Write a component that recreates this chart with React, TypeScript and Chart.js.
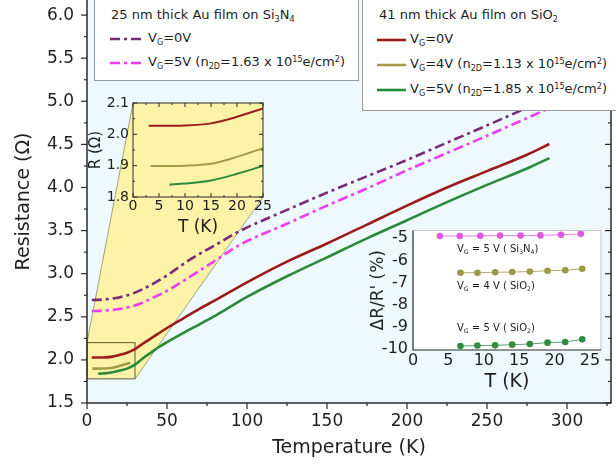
import React, { useEffect, useRef } from 'react';
import { Chart, registerables } from 'chart.js';

Chart.register(...registerables);

// ---------------- data ----------------
// 41 nm Au film on SiO2
const tempSiO2_0V = [3, 5, 10, 15, 20, 25, 30, 35, 40, 50, 60, 70, 80, 100, 125, 150, 175, 200, 225, 250, 275, 289];
const resSiO2_0V = [2.027, 2.027, 2.028, 2.035, 2.056, 2.083, 2.125, 2.19, 2.25, 2.37, 2.48, 2.59, 2.69, 2.9, 3.14, 3.35, 3.57, 3.79, 4.0, 4.19, 4.38, 4.505];
const tempSiO2_4V = [3.4, 5, 10, 15, 20, 25, 27];
const resSiO2_4V = [1.899, 1.899, 1.9, 1.906, 1.928, 1.956, 1.968];
const tempSiO2_5V = [7, 10, 15, 20, 25, 30, 35, 40, 45, 50, 60, 70, 80, 100, 125, 150, 175, 200, 225, 250, 275, 289];
const resSiO2_5V = [1.84, 1.843, 1.853, 1.874, 1.899, 1.945, 2.02, 2.085, 2.15, 2.205, 2.31, 2.41, 2.51, 2.73, 2.97, 3.19, 3.41, 3.62, 3.83, 4.03, 4.22, 4.34];
// 25 nm Au film on Si3N4
const tempSi3N4 = [3, 10, 20, 30, 40, 50, 64, 80, 95, 125, 150, 175, 200, 225, 250, 272, 290];
const resSi3N4_0V = [2.695, 2.7, 2.725, 2.78, 2.87, 2.98, 3.16, 3.33, 3.49, 3.74, 3.94, 4.13, 4.32, 4.52, 4.72, 4.9, 5.05];
const resSi3N4_5V = [2.567, 2.57, 2.59, 2.63, 2.71, 2.8, 2.96, 3.15, 3.33, 3.58, 3.79, 3.99, 4.2, 4.4, 4.6, 4.78, 4.93];
// Inset: relative change dR/R' (%)
const dTempSi3N4 = [3.8, 6.6, 9.5, 12.3, 15.2, 18.0, 20.9, 23.7];
const dResSi3N4_5V = [-4.9, -4.9, -4.89, -4.88, -4.88, -4.87, -4.84, -4.8];
const dTempSiO2 = [6.7, 9.1, 11.6, 14.0, 16.5, 19.0, 21.5, 23.9];
const dResSiO2_4V = [-6.55, -6.55, -6.53, -6.52, -6.5, -6.46, -6.44, -6.37];
const dResSiO2_5V = [-9.85, -9.83, -9.82, -9.79, -9.76, -9.7, -9.67, -9.55];

// tick labels
const mainXTicks = [0, 50, 100, 150, 200, 250, 300];
const mainYTicks = [1.5, 2.0, 2.5, 3.0, 3.5, 4.0, 4.5, 5.0, 5.5, 6.0];
const inset1XTicks = [0, 5, 10, 15, 20, 25];
const inset1YTicks = [1.8, 1.9, 2.0, 2.1];
const inset2XTicks = [0, 5, 10, 15, 20, 25];
const inset2YTicks = [-10, -9, -8, -7, -6, -5];
// zoomed region marked on the main plot (T range, R range)
const zoomBoxT = [0, 30];
const zoomBoxR = [1.78, 2.2];

// ---------------- styles ----------------
const FONT = "'DejaVu Sans', 'Liberation Sans', Arial, sans-serif";
const TEXT = '#1e1e1e';
const AXIS = '#2a2a2a';
const CYAN = '#edf9fc';
const YELLOW = '#fcf3a8';
const RED = '#9c1c1c';
const OLIVE = '#a39d48';
const GREEN = '#2b8a3a';
const PURPLE = '#7a2a76';
const MAGENTA = '#ef3cef';
const DASHDOT = [10, 4, 3, 4];

// layout of inset canvases (page px) and their plot areas (canvas px)
const IN1 = { left: 80, top: 90, width: 195, height: 150 };
const IN1_AREA = { left: 53, top: 13, right: 183, bottom: 107 };
const IN2 = { left: 355, top: 218, width: 255, height: 190 };
const IN2_AREA = { left: 58, top: 12.5, right: 246, bottom: 132 };

const pts = (xs: number[], ys: number[], maxX = Infinity) =>
  xs.map((x, i) => ({ x, y: ys[i] })).filter((p) => p.x <= maxX);

const pin = (size: number, horizontal: boolean) => (s: any) => {
  if (horizontal) s.height = size;
  else s.width = size;
  s.paddingLeft = 0;
  s.paddingRight = 0;
  s.paddingTop = 0;
  s.paddingBottom = 0;
};
const setTicks = (values: number[]) => (s: any) => {
  s.ticks = values.map((v) => ({ value: v }));
};

function axisCfg(o: any) {
  return {
    type: 'linear',
    min: o.min,
    max: o.max,
    afterBuildTicks: setTicks(o.ticks),
    afterFit: pin(o.size, o.horizontal),
    grid: { display: false, drawTicks: false },
    border: { display: false },
    ticks: {
      font: { family: FONT, size: o.tickSize },
      color: TEXT,
      padding: o.tickPad,
      maxRotation: 0,
      autoSkip: false,
      callback: o.fmt,
    },
    title: {
      display: true,
      text: o.title,
      color: TEXT,
      font: { family: FONT, size: o.titleSize },
      padding: o.titlePad,
    },
  };
}

function line(label: string, data: any[], color: string, width: number, dash: number[] = []) {
  return {
    label,
    data,
    borderColor: color,
    backgroundColor: color,
    borderWidth: width,
    borderDash: dash,
    pointRadius: 0,
    fill: false,
    cubicInterpolationMode: 'monotone',
  };
}

function tickMarks(ctx: any, scale: any, values: number[], from: number, len: number, horizontal: boolean) {
  values.forEach((v) => {
    if (v < scale.min || v > scale.max) return;
    const p = scale.getPixelForValue(v);
    ctx.beginPath();
    if (horizontal) {
      ctx.moveTo(p, from);
      ctx.lineTo(p, from + len);
    } else {
      ctx.moveTo(from, p);
      ctx.lineTo(from + len, p);
    }
    ctx.stroke();
  });
}
const minors = (majors: number[], half: number) => majors.map((v) => v + half);

const mainDecor = {
  id: 'mainDecor',
  beforeDraw(chart: any) {
    const { ctx, chartArea: a } = chart;
    ctx.save();
    ctx.fillStyle = '#ffffff';
    ctx.fillRect(0, 0, chart.width, chart.height);
    ctx.fillStyle = CYAN;
    ctx.fillRect(a.left, a.top, a.right - a.left, a.bottom - a.top);
    ctx.restore();
  },
  beforeDatasetsDraw(chart: any) {
    const { ctx, scales } = chart;
    const x = scales.x;
    const y = scales.y;
    const rl = x.getPixelForValue(zoomBoxT[0]);
    const rr = x.getPixelForValue(zoomBoxT[1]);
    const rt = y.getPixelForValue(zoomBoxR[1]);
    const rb = y.getPixelForValue(zoomBoxR[0]);
    const iL = IN1.left + IN1_AREA.left;
    const iR = IN1.left + IN1_AREA.right;
    const iT = IN1.top + IN1_AREA.top;
    const iB = IN1.top + IN1_AREA.bottom;
    ctx.save();
    ctx.fillStyle = YELLOW;
    ctx.beginPath();
    ctx.moveTo(rl, rt);
    ctx.lineTo(iL, iT);
    ctx.lineTo(iR, iT);
    ctx.lineTo(iR, iB);
    ctx.lineTo(rr, rb);
    ctx.lineTo(rl, rb);
    ctx.closePath();
    ctx.fill();
    ctx.strokeStyle = '#8f8f62';
    ctx.lineWidth = 0.8;
    ctx.beginPath();
    ctx.moveTo(rl, rt);
    ctx.lineTo(iL, iT);
    ctx.moveTo(rr, rb);
    ctx.lineTo(iR, iB);
    ctx.stroke();
    ctx.strokeStyle = '#5e5a30';
    ctx.lineWidth = 1;
    ctx.strokeRect(rl, rt, rr - rl, rb - rt);
    ctx.restore();
  },
  afterDraw(chart: any) {
    const { ctx, chartArea: a, scales } = chart;
    ctx.save();
    ctx.strokeStyle = AXIS;
    ctx.lineWidth = 1.5;
    ctx.beginPath();
    ctx.moveTo(a.left, a.top);
    ctx.lineTo(a.left, a.bottom);
    ctx.lineTo(a.right, a.bottom);
    ctx.lineTo(a.right, a.top);
    ctx.stroke();
    ctx.lineWidth = 1.2;
    tickMarks(ctx, scales.y, mainYTicks, a.left, -6, false);
    tickMarks(ctx, scales.y, minors(mainYTicks, 0.25), a.left, -3, false);
    tickMarks(ctx, scales.y, mainYTicks, a.right, -6, false);
    tickMarks(ctx, scales.y, minors(mainYTicks, 0.25), a.right, -3, false);
    tickMarks(ctx, scales.x, mainXTicks, a.bottom, 6, true);
    tickMarks(ctx, scales.x, minors(mainXTicks, 25), a.bottom, 3, true);
    ctx.restore();
  },
};

const inset1Decor = {
  id: 'inset1Decor',
  beforeDraw(chart: any) {
    const { ctx, chartArea: a } = chart;
    ctx.save();
    ctx.fillStyle = YELLOW;
    ctx.fillRect(a.left, a.top, a.right - a.left, a.bottom - a.top);
    ctx.restore();
  },
  afterDraw(chart: any) {
    const { ctx, chartArea: a, scales } = chart;
    ctx.save();
    ctx.strokeStyle = AXIS;
    ctx.lineWidth = 1;
    ctx.strokeRect(a.left, a.top, a.right - a.left, a.bottom - a.top);
    tickMarks(ctx, scales.y, inset1YTicks, a.left, 4, false);
    tickMarks(ctx, scales.y, minors(inset1YTicks, 0.05), a.left, 2, false);
    tickMarks(ctx, scales.y, inset1YTicks, a.right, -4, false);
    tickMarks(ctx, scales.y, minors(inset1YTicks, 0.05), a.right, -2, false);
    tickMarks(ctx, scales.x, inset1XTicks, a.bottom, -4, true);
    tickMarks(ctx, scales.x, minors(inset1XTicks, 2.5), a.bottom, -2, true);
    tickMarks(ctx, scales.x, inset1XTicks, a.top, 4, true);
    tickMarks(ctx, scales.x, minors(inset1XTicks, 2.5), a.top, 2, true);
    ctx.restore();
  },
};

const inset2Decor = {
  id: 'inset2Decor',
  beforeDraw(chart: any) {
    const { ctx, chartArea: a } = chart;
    ctx.save();
    ctx.fillStyle = '#ffffff';
    ctx.fillRect(a.left, a.top, a.right - a.left, a.bottom - a.top);
    ctx.restore();
  },
  afterDraw(chart: any) {
    const { ctx, chartArea: a } = chart;
    ctx.save();
    ctx.strokeStyle = '#c4c4c4';
    ctx.lineWidth = 1;
    ctx.beginPath();
    ctx.moveTo(a.left, a.top);
    ctx.lineTo(a.right, a.top);
    ctx.lineTo(a.right, a.bottom);
    ctx.stroke();
    ctx.strokeStyle = AXIS;
    ctx.lineWidth = 1.2;
    ctx.beginPath();
    ctx.moveTo(a.left, a.top);
    ctx.lineTo(a.left, a.bottom);
    ctx.lineTo(a.right, a.bottom);
    ctx.stroke();
    ctx.restore();
  },
};

const common = {
  responsive: false,
  animation: false,
  events: [],
  plugins: { legend: { display: false }, tooltip: { enabled: false } },
};

function mainConfig(): any {
  return {
    type: 'line',
    data: {
      datasets: [
        line('Si3N4 VG=0V', pts(tempSi3N4, resSi3N4_0V), PURPLE, 2.6, DASHDOT),
        line('Si3N4 VG=5V', pts(tempSi3N4, resSi3N4_5V), MAGENTA, 2.6, DASHDOT),
        line('SiO2 VG=0V', pts(tempSiO2_0V, resSiO2_0V), RED, 2.6),
        line('SiO2 VG=4V', pts(tempSiO2_4V, resSiO2_4V), OLIVE, 2.6),
        line('SiO2 VG=5V', pts(tempSiO2_5V, resSiO2_5V), GREEN, 2.6),
      ],
    },
    options: {
      ...common,
      layout: { padding: { left: 0, top: 0, right: 5, bottom: 0 } },
      scales: {
        x: axisCfg({
          min: 0, max: 327.5, ticks: mainXTicks, size: 65, horizontal: true,
          tickSize: 17, tickPad: 8, fmt: (v: number) => String(v),
          title: 'Temperature (K)', titleSize: 19, titlePad: { top: 0, bottom: 9 },
        }),
        y: axisCfg({
          min: 1.5, max: 6.175, ticks: mainYTicks, size: 87, horizontal: false,
          tickSize: 17, tickPad: 13, fmt: (v: number) => v.toFixed(1),
          title: 'Resistance (\u03A9)', titleSize: 19, titlePad: { top: 13, bottom: 0 },
        }),
      },
    },
    plugins: [mainDecor],
  };
}

function inset1Config(): any {
  return {
    type: 'line',
    data: {
      datasets: [
        line('SiO2 VG=0V', pts(tempSiO2_0V, resSiO2_0V, 25), RED, 2),
        line('SiO2 VG=4V', pts(tempSiO2_4V, resSiO2_4V, 25), OLIVE, 2),
        line('SiO2 VG=5V', pts(tempSiO2_5V, resSiO2_5V, 25), GREEN, 2),
      ],
    },
    options: {
      ...common,
      layout: {
        padding: { left: 0, top: IN1_AREA.top, right: IN1.width - IN1_AREA.right, bottom: 0 },
      },
      scales: {
        x: axisCfg({
          min: 0, max: 25, ticks: inset1XTicks, size: IN1.height - IN1_AREA.bottom, horizontal: true,
          tickSize: 14, tickPad: 1, fmt: (v: number) => String(v),
          title: 'T (K)', titleSize: 17, titlePad: { top: 0, bottom: 2 },
        }),
        y: axisCfg({
          min: 1.8, max: 2.1, ticks: inset1YTicks, size: IN1_AREA.left, horizontal: false,
          tickSize: 14, tickPad: 4, fmt: (v: number) => v.toFixed(1),
          title: 'R (\u03A9)', titleSize: 15, titlePad: { top: 7, bottom: 0 },
        }),
      },
    },
    plugins: [inset1Decor],
  };
}

function dots(label: string, data: any[], color: string) {
  return {
    label,
    data,
    borderColor: color,
    backgroundColor: color,
    borderWidth: 0.8,
    pointRadius: 3.3,
    pointBorderWidth: 0,
    showLine: true,
    fill: false,
  };
}

function inset2Config(): any {
  return {
    type: 'line',
    data: {
      datasets: [
        dots('VG = 5 V (Si3N4)', pts(dTempSi3N4, dResSi3N4_5V), '#e257e2'),
        dots('VG = 4 V (SiO2)', pts(dTempSiO2, dResSiO2_4V), '#9b9846'),
        dots('VG = 5 V (SiO2)', pts(dTempSiO2, dResSiO2_5V), '#2f8c42'),
      ],
    },
    options: {
      ...common,
      layout: {
        padding: { left: 0, top: IN2_AREA.top, right: IN2.width - IN2_AREA.right, bottom: 0 },
      },
      scales: {
        x: axisCfg({
          min: 0, max: 26.55, ticks: inset2XTicks, size: IN2.height - IN2_AREA.bottom, horizontal: true,
          tickSize: 16, tickPad: 1.5, fmt: (v: number) => String(v),
          title: 'T (K)', titleSize: 19, titlePad: { top: 0, bottom: 15 },
        }),
        y: axisCfg({
          min: -10.03, max: -4.65, ticks: inset2YTicks, size: IN2_AREA.left, horizontal: false,
          tickSize: 16, tickPad: 5, fmt: (v: number) => String(v),
          title: "\u0394R/R' (%)", titleSize: 17, titlePad: { top: 13, bottom: 0 },
        }),
      },
    },
    plugins: [inset2Decor],
  };
}

// ---------------- rich text helpers ----------------
const Sub = ({ children }: any) => (
  <span style={{ fontSize: '0.62em', position: 'relative', top: '0.35em' }}>{children}</span>
);
const Sup = ({ children }: any) => (
  <span style={{ fontSize: '0.62em', position: 'relative', top: '-0.55em' }}>{children}</span>
);
const Sample = ({ color, dash, width }: any) => (
  <svg width={width} height={10} style={{ verticalAlign: 'middle', marginRight: 4 }}>
    <line x1={0} y1={5} x2={width} y2={5} stroke={color} strokeWidth={2.6} strokeDasharray={dash ? dash.join(' ') : undefined} />
  </svg>
);

const rowStyle = (left: number, center: number): any => ({
  position: 'absolute',
  left,
  top: center - 9,
  height: 18,
  lineHeight: '18px',
  whiteSpace: 'nowrap',
  fontSize: 13,
  color: TEXT,
});

export default function App() {
  const mainRef = useRef<HTMLCanvasElement>(null);
  const in1Ref = useRef<HTMLCanvasElement>(null);
  const in2Ref = useRef<HTMLCanvasElement>(null);

  useEffect(() => {
    const charts: Chart[] = [];
    if (mainRef.current) charts.push(new Chart(mainRef.current, mainConfig()));
    if (in1Ref.current) charts.push(new Chart(in1Ref.current, inset1Config()));
    if (in2Ref.current) charts.push(new Chart(in2Ref.current, inset2Config()));
    return () => charts.forEach((c) => c.destroy());
  }, []);

  return (
    <div
      style={{
        position: 'fixed',
        left: 0,
        top: 0,
        width: 616,
        height: 468,
        overflow: 'hidden',
        background: '#fff',
        fontFamily: FONT,
      }}
    >
      <canvas ref={mainRef} width={616} height={468} style={{ position: 'absolute', left: 0, top: 0 }} />
      <canvas
        ref={in1Ref}
        width={IN1.width}
        height={IN1.height}
        style={{ position: 'absolute', left: IN1.left, top: IN1.top }}
      />
      <canvas
        ref={in2Ref}
        width={IN2.width}
        height={IN2.height}
        style={{ position: 'absolute', left: IN2.left, top: IN2.top }}
      />

      {/* legend: Si3N4 */}
      <div
        style={{
          position: 'absolute', left: 94, top: -1, width: 265, height: 82,
          background: '#fff', border: '1px solid #9a9a9a', boxSizing: 'border-box',
        }}
      >
        <div style={rowStyle(16, 15)}>
          25 nm thick Au film on Si<Sub>3</Sub>N<Sub>4</Sub>
        </div>
        <div style={rowStyle(15, 38)}>
          <Sample color={PURPLE} dash={DASHDOT} width={34} />
          V<Sub>G</Sub>=0V
        </div>
        <div style={rowStyle(15, 62)}>
          <Sample color={MAGENTA} dash={DASHDOT} width={34} />
          V<Sub>G</Sub>=5V (n<Sub>2D</Sub>=1.63 x 10<Sup>15</Sup>e/cm<Sup>2</Sup>)
        </div>
      </div>

      {/* legend: SiO2 */}
      <div
        style={{
          position: 'absolute', left: 362, top: -1, width: 256, height: 112,
          background: '#fff', border: '1px solid #9a9a9a', boxSizing: 'border-box',
        }}
      >
        <div style={rowStyle(16, 15)}>
          41 nm thick Au film on SiO<Sub>2</Sub>
        </div>
        <div style={rowStyle(14, 39)}>
          <Sample color={RED} width={29} />
          V<Sub>G</Sub>=0V
        </div>
        <div style={rowStyle(14, 64)}>
          <Sample color={OLIVE} width={29} />
          V<Sub>G</Sub>=4V (n<Sub>2D</Sub>=1.13 x 10<Sup>15</Sup>e/cm<Sup>2</Sup>)
        </div>
        <div style={rowStyle(14, 89)}>
          <Sample color={GREEN} width={29} />
          V<Sub>G</Sub>=5V (n<Sub>2D</Sub>=1.85 x 10<Sup>15</Sup>e/cm<Sup>2</Sup>)
        </div>
      </div>

      {/* inset annotations */}
      <div style={{ ...rowStyle(457, 249), fontSize: 10 }}>
        V<Sub>G</Sub> = 5 V ( Si<Sub>3</Sub>N<Sub>4</Sub>)
      </div>
      <div style={{ ...rowStyle(457, 286), fontSize: 10 }}>
        V<Sub>G</Sub> = 4 V ( SiO<Sub>2</Sub>)
      </div>
      <div style={{ ...rowStyle(457, 328), fontSize: 10 }}>
        V<Sub>G</Sub> = 5 V ( SiO<Sub>2</Sub>)
      </div>
    </div>
  );
}
